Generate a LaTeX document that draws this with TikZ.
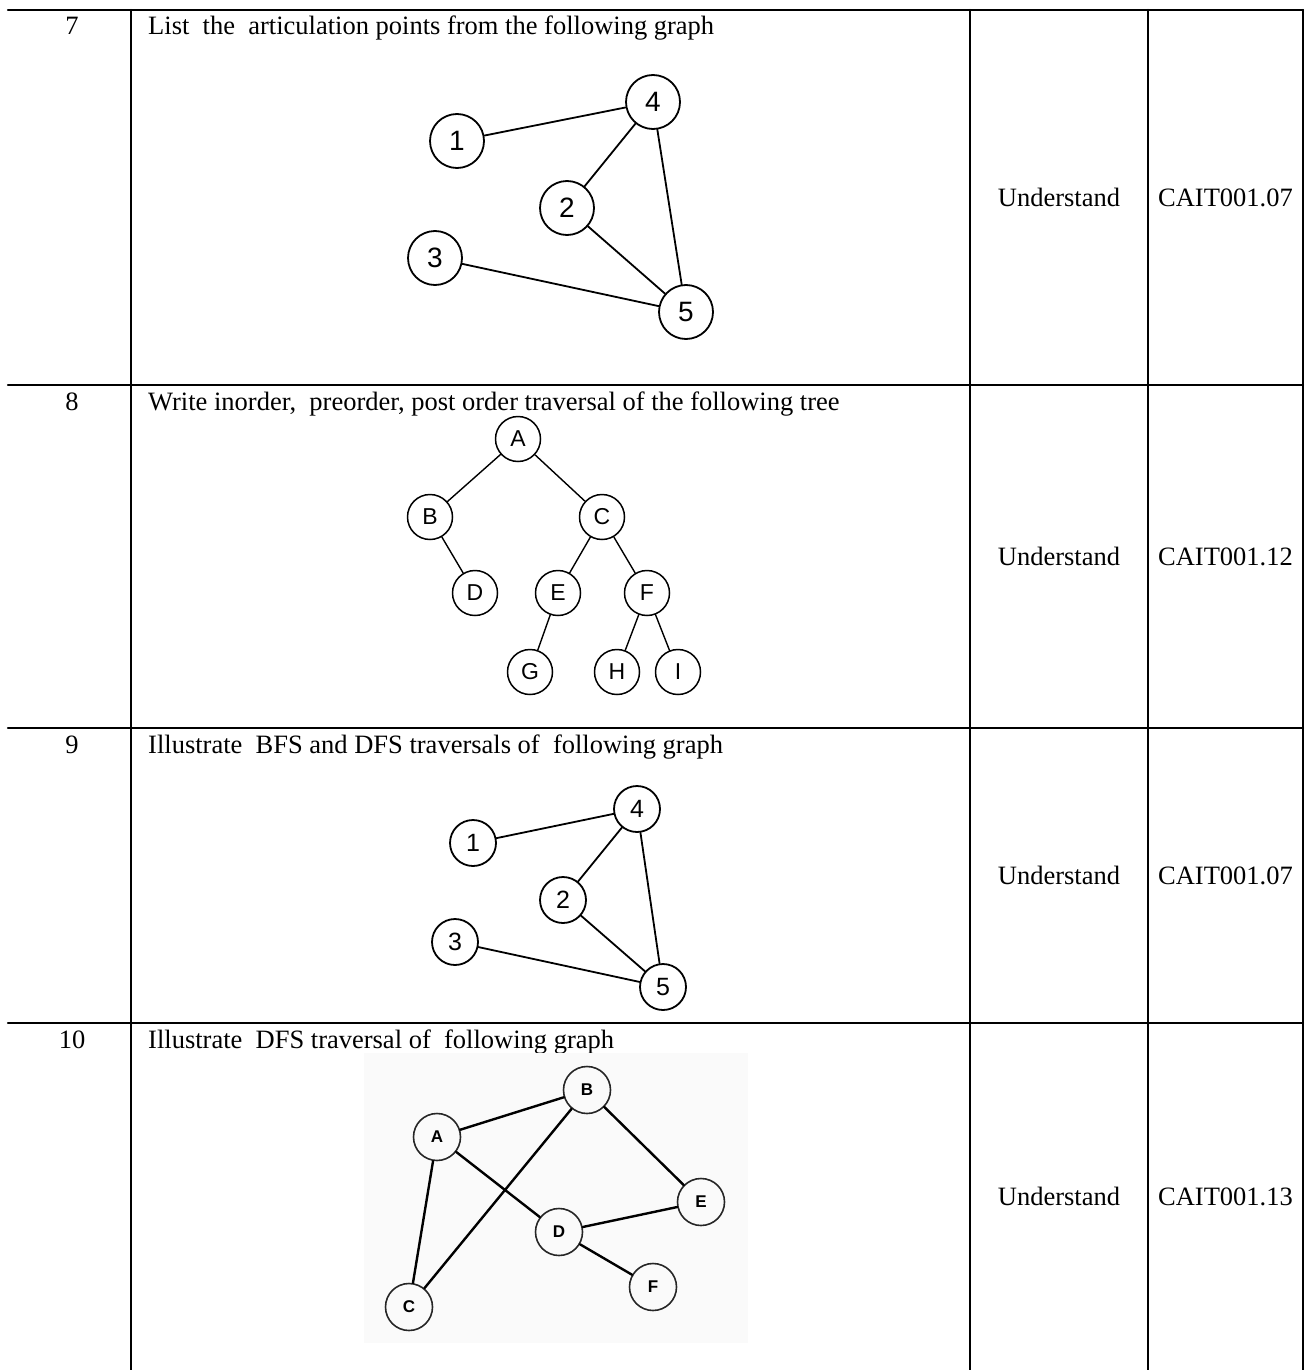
\documentclass[tikz,border=0pt]{standalone}
\usepackage{fontspec}
\setmainfont{Liberation Serif}
\newfontfamily\nodefont{Liberation Sans}
\begin{document}
\begin{tikzpicture}[x=1pt, y=-1pt, line join=round, line cap=round,
	rowtext/.style={font=\fontsize{26.5}{30}\selectfont, inner sep=0pt},
	vtx/.style={circle, draw, line width=1.8pt, inner sep=0pt, minimum size=54pt, font=\nodefont\fontsize{28}{30}\selectfont},
	smallvtx/.style={vtx, line width=1.5pt, minimum size=45pt, font=\nodefont\fontsize{23}{25}\selectfont},
	dfsvtx/.style={vtx, line width=1.6pt, draw=black!85, minimum size=47pt, font=\nodefont\bfseries\fontsize{17}{19}\selectfont},
	edge/.style={line width=1.8pt}]
	\useasboundingbox (0,0) rectangle (1308,1370);
	\def\xa{8} \def\xb{131} \def\xc{970} \def\xd{1148} \def\xe{1303}
	\def\ya{10} \def\yb{385} \def\yc{728} \def\yd{1023} \def\ye{1370}
	% table rules
	\draw[line width=2.3pt] (\xa,\ya)--(\xe,\ya) (\xa,\yb)--(\xe,\yb) (\xa,\yc)--(\xe,\yc) (\xa,\yd)--(\xe,\yd);
	\draw[line width=2.3pt] (\xb,\ya)--(\xb,\ye) (\xc,\ya)--(\xc,\ye) (\xd,\ya)--(\xd,\ye) (\xe,\ya)--(\xe,\ye);
	% numbers and questions
	\node[rowtext, anchor=base] (n7) at (72,\ya+25) {7};
	\node[rowtext, anchor=base] (n8) at (72,\yb+25) {8};
	\node[rowtext, anchor=base] (n9) at (72,\yc+25) {9};
	\node[rowtext, anchor=base] (n10) at (72,\yd+25) {10};
	\node[rowtext, anchor=base west] (q7) at (148,\ya+25) {List\ \ the\ \ articulation points from the following graph};
	\node[rowtext, anchor=base west] (q8) at (148,\yb+25) {Write inorder,\ \ preorder, post order traversal of the following tree};
	\node[rowtext, anchor=base west] (q9) at (148,\yc+25) {Illustrate\ \ BFS and DFS traversals of\ \ following graph};
	\node[rowtext, anchor=base west] (q10) at (148,\yd+25) {Illustrate\ \ DFS traversal of\ \ following graph};
	\foreach \r/\lo/\hi/\co in {7/\ya/\yb/07, 8/\yb/\yc/12, 9/\yc/\yd/07, 10/\yd/\ye/13}{
		\node[rowtext] (lvl\r) at (1059,{(\lo+\hi)/2}) {Understand};
		\node[rowtext] (co\r) at (1225.5,{(\lo+\hi)/2}) {CAIT001.\co};
	}
	% articulation points graph
	\node[vtx] (a1) at (457,141) {1};
	\node[vtx] (a4) at (653,102) {4};
	\node[vtx] (a2) at (567,208) {2};
	\node[vtx] (a3) at (435,258) {3};
	\node[vtx] (a5) at (686,312) {5};
	\draw[edge] (a1)--(a4) (a4)--(a2) (a4)--(a5) (a2)--(a5) (a3)--(a5);
	% binary tree
	\node[smallvtx] (tA) at (518,439) {A};
	\node[smallvtx] (tB) at (430,517) {B};
	\node[smallvtx] (tC) at (602,517) {C};
	\node[smallvtx] (tD) at (475,593) {D};
	\node[smallvtx] (tE) at (558,593) {E};
	\node[smallvtx] (tF) at (647,593) {F};
	\node[smallvtx] (tG) at (530,672) {G};
	\node[smallvtx] (tH) at (617,672) {H};
	\node[smallvtx] (tI) at (678,672) {I};
	\draw[line width=1.4pt] (tA)--(tB) (tA)--(tC) (tB)--(tD) (tC)--(tE) (tC)--(tF) (tE)--(tG) (tF)--(tH) (tF)--(tI);
	% bfs/dfs graph
	\node[vtx, minimum size=46pt, font=\nodefont\fontsize{25}{27}\selectfont] (b1) at (473,843) {1};
	\node[vtx, minimum size=46pt, font=\nodefont\fontsize{25}{27}\selectfont] (b4) at (637,809) {4};
	\node[vtx, minimum size=46pt, font=\nodefont\fontsize{25}{27}\selectfont] (b2) at (563,900) {2};
	\node[vtx, minimum size=46pt, font=\nodefont\fontsize{25}{27}\selectfont] (b3) at (455,942) {3};
	\node[vtx, minimum size=46pt, font=\nodefont\fontsize{25}{27}\selectfont] (b5) at (663,987) {5};
	\draw[edge] (b1)--(b4) (b4)--(b2) (b4)--(b5) (b2)--(b5) (b3)--(b5);
	% dfs graph
	\fill[black!2] (364,1053) rectangle (748,1343);
	\node[dfsvtx] (dA) at (437,1137) {A};
	\node[dfsvtx] (dB) at (587,1090) {B};
	\node[dfsvtx] (dC) at (409,1307) {C};
	\node[dfsvtx] (dD) at (559,1232) {D};
	\node[dfsvtx] (dE) at (701,1202) {E};
	\node[dfsvtx] (dF) at (653,1287) {F};
	\draw[line width=2.4pt] (dA)--(dB) (dA)--(dC) (dA)--(dD) (dB)--(dC) (dB)--(dE) (dD)--(dE) (dD)--(dF);
\end{tikzpicture}
\end{document}
